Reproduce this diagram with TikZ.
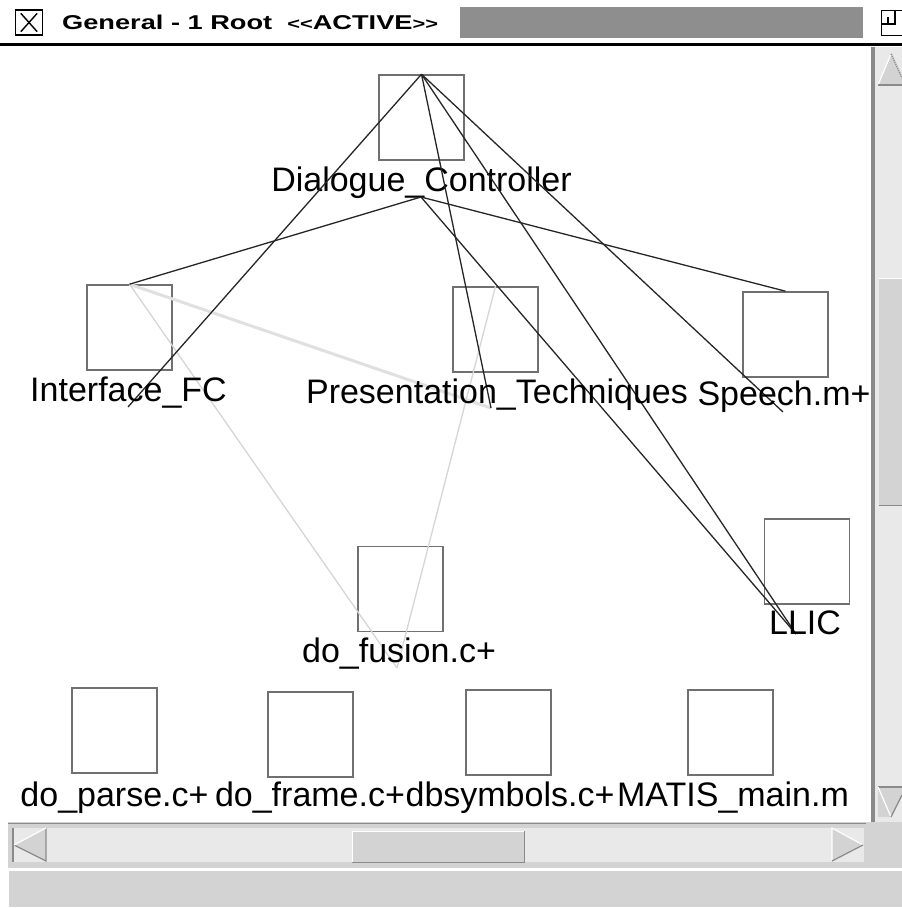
\documentclass[tikz,border=0pt]{standalone}
\usepackage{fontspec}
\usepackage{graphicx}
\setmainfont{Liberation Sans}
\definecolor{boxgray}{HTML}{707070}
\definecolor{edgegray}{HTML}{D6D6D6}
\definecolor{edgegraylt}{HTML}{E0E0E0}
\definecolor{chrome}{HTML}{D3D3D3}
\definecolor{trough}{HTML}{E9E9E9}
\definecolor{bevel}{HTML}{8A8A8A}
\definecolor{stip}{HTML}{8E8E8E}
\tikzset{
  modbox/.style={draw=boxgray, line width=1.6pt, fill=white, minimum width=85pt, minimum height=85pt, inner sep=0pt},
  lbl/.style={anchor=base, inner sep=0pt, font=\fontsize{34}{40}\selectfont},
  dark/.style={draw=black!85, line width=1.3pt},
  light/.style={draw=edgegray, line width=1.3pt},
  lightthick/.style={draw=edgegraylt, line width=3pt},
  chromebar/.style={fill=chrome, inner sep=0pt, anchor=north west},
}
\begin{document}
\begin{tikzpicture}[x=1pt,y=-1pt]
\useasboundingbox (0,0) rectangle (902,908);
\fill[white] (0,0) rectangle (902,908);

% ---- title bar ----
\node[draw=black, line width=1.4pt, minimum width=27pt, minimum height=25pt, inner sep=0pt] (xicon) at (29,22.5) {};
\draw[black, line width=1.4pt] ([shift={(6,4)}]xicon.north west) -- ([shift={(-6,-4)}]xicon.south east);
\draw[black, line width=1.4pt] ([shift={(-6,4)}]xicon.north east) -- ([shift={(6,-4)}]xicon.south west);
\node[anchor=base west, inner sep=0pt] (title) at (62,29) {\scalebox{1.36}[1]{\fontsize{20}{24}\selectfont\bfseries General - 1 Root\ \ {\fontsize{16}{20}\selectfont <\kern0pt<}ACTIVE{\fontsize{16}{20}\selectfont >\kern0pt>}}};
\node[fill=stip, minimum width=403pt, minimum height=31pt, inner sep=0pt, anchor=north west] (stipple) at (460,7) {};
\node[draw=black, line width=1.4pt, minimum width=24pt, minimum height=25pt, inner sep=0pt, anchor=north west] (iconbox) at (881,10) {};
\draw[black, line width=1.4pt] (881,24) -- (895,24) -- (895,10);
\draw[black, line width=1.4pt] (888,17) -- (888,24);
\draw[black, line width=3.5pt] (0,44.5) -- (902,44.5);

% ---- vertical scrollbar ----
\fill[trough] (871,47) rectangle (902,822);
\fill[bevel] (871,47) rectangle (875,822);
\node[chromebar, minimum width=23pt, minimum height=227pt] (vthumb) at (879,278) {};
\draw[bevel, line width=1pt] (vthumb.south west) -- (vthumb.south east);
\draw[white, line width=1pt] (vthumb.north west) -- (vthumb.north east);
\fill[chrome] (878,53) -- (892,53) -- (902,75) -- (902,85) -- (878,85) -- cycle;
\fill[trough] (878,53) -- (891,53) -- (878,85) -- cycle;
\draw[white, line width=1.2pt] (878,85) -- (891,54);
\draw[bevel, line width=1.2pt, densely dotted] (891,54) -- (902,78);
\draw[bevel, line width=1.2pt] (878,85) -- (902,85);
\fill[chrome] (878,787) -- (902,787) -- (902,795) -- (891,817) -- (878,817) -- cycle;
\draw[bevel, line width=1.2pt] (878,787) -- (902,787);
\draw[white, line width=1.2pt] (878,787) -- (891,817);
\draw[bevel, line width=1.2pt] (891,817) -- (902,795);

% ---- horizontal scrollbar ----
\fill[chrome] (8,822) rectangle (902,868);
\fill[trough] (13,828) rectangle (864,862);
\draw[bevel, line width=1.2pt] (8,823.5) -- (866,823.5);
\draw[bevel, line width=1.2pt] (13,828) -- (13,862);
\node[chromebar, minimum width=172pt, minimum height=31pt] (hthumb) at (352,831) {};
\draw[bevel, line width=1.4pt] (hthumb.south west) -- (hthumb.south east) -- (hthumb.north east);
\draw[white, line width=1pt] (hthumb.south west) -- (hthumb.north west) -- (hthumb.north east);
\fill[chrome] (46,828) -- (46,861) -- (14,845) -- cycle;
\draw[bevel, line width=1.2pt] (14,845) -- (46,861) -- (46,828);
\draw[white, line width=1.2pt] (14,845) -- (46,828);
\fill[chrome] (832,828) -- (832,861) -- (863,845) -- cycle;
\draw[white, line width=1.2pt] (832,861) -- (832,828) -- (863,845);
\draw[bevel, line width=1.2pt] (832,861) -- (863,845);
% status bar
\draw[white, line width=1.5pt] (8,868.5) -- (902,868.5);
\fill[chrome] (9,870) rectangle (902,907);
\draw[white, line width=1pt] (9,870.5) -- (902,870.5);

% ---- canvas ----
\fill[white] (0,47) rectangle (870,822);

% modules
\node[modbox] (dc) at (421.5,117.5) {};
\node[lbl] (dcl) at (421.5,191) {Dialogue\_Controller};
\node[modbox] (if) at (129.5,327.5) {};
\node[modbox] (pt) at (495.5,329.5) {};
\node[modbox] (sp) at (785.5,334.5) {};
\node[modbox] (ll) at (807,561.5) {};
\node[modbox] (fu) at (400.5,589) {};
\node[modbox] (dp) at (114.5,730.5) {};
\node[modbox] (df) at (310.5,734.5) {};
\node[modbox] (db) at (508.5,732.5) {};
\node[modbox] (mm) at (730.5,732.5) {};

% endpoints below labels
\coordinate (dcb) at (421,197);
\coordinate (ifb) at (128,407);
\coordinate (ptb) at (491,408);
\coordinate (spb) at (783,412);
\coordinate (llb) at (796,634);
\coordinate (fub) at (397,668);

% light edges
\draw[lightthick] (if.north) -- (ptb);
\draw[light] (if.north) -- (fub);
\draw[light] (pt.north) -- (fub);

% dark edges
\draw[dark] (dc.north) -- (ifb);
\draw[dark] (dc.north) -- (ptb);
\draw[dark] (dc.north) -- (llb);
\draw[dark] (dc.north) -- (spb);
\draw[dark] (dcb) -- (if.north);
\draw[dark] (dcb) -- (sp.north);
\draw[dark] (dcb) -- (llb);

% labels
\node[lbl] (ifl) at (128.5,401) {Interface\_FC};
\node[lbl] (ptl) at (497,403) {Presentation\_Techniques};
\node[lbl] (spl) at (784,405) {Speech.m+};
\node[lbl] (lll) at (805,634) {LLIC};
\node[lbl] (ful) at (399,662) {do\_fusion.c+};
\node[lbl] (dpl) at (114.5,806) {do\_parse.c+};
\node[lbl] (dfl) at (310,806) {do\_frame.c+};
\node[lbl] (dbl) at (510,806) {dbsymbols.c+};
\node[lbl] (mml) at (733,806) {MATIS\_main.m};
\end{tikzpicture}
\end{document}
